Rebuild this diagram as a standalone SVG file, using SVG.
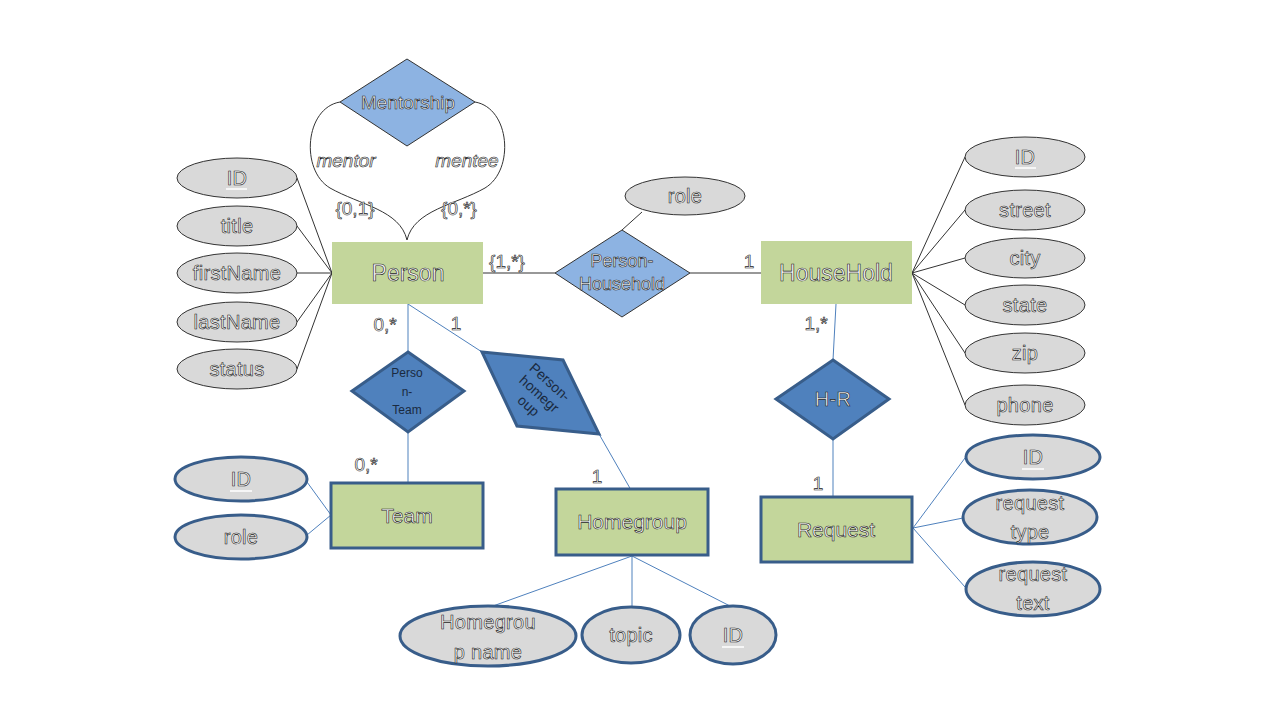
<svg xmlns="http://www.w3.org/2000/svg" width="1280" height="720" viewBox="0 0 1280 720">
<style>
text{font-family:"Liberation Sans",Arial,sans-serif;text-anchor:middle;fill:#f8f8f8;stroke:#1a1a1a;stroke-width:0.6}
.ent{fill:#c3d69b}
.entb{fill:#c3d69b;stroke:#385d8a;stroke-width:3}
.att{fill:#d9d9d9;stroke:#333;stroke-width:1}
.attb{fill:#d9d9d9;stroke:#385d8a;stroke-width:3}
.rel{fill:#8db3e2;stroke:#333;stroke-width:1}
.relb{fill:#4f81bd;stroke:#385d8a;stroke-width:3}
.dk{stroke:#333;stroke-width:1;fill:none}
.gr{stroke:#777;stroke-width:1.5;fill:none}
.bl{stroke:#4f81bd;stroke-width:1;fill:none}
.lbl{font-size:19px}
.big{font-size:23px}
.ent-t{font-size:21px}
.att-t{font-size:20px;letter-spacing:0.3px}
.dark{fill:#1a2a40;stroke:none}
</style>
<rect width="1280" height="720" fill="#fff"/>
<g id="connectors">
<path class="dk" d="M297,178 L332,273 M297,226 L332,273 M297,273 L332,273 M297,322 L332,273 M297,369 L332,273"/>
<path class="dk" d="M340,102 C305,108 300,170 330,188 C360,205 400,210 407,240 M475,102 C510,108 515,170 485,188 C455,205 414,210 407,240"/>
<path class="gr" d="M483,273 L555,273 M690,273 L761,273"/>
<path class="dk" d="M642,212 L622,230"/>
<path class="dk" d="M912,273 L965,157 M912,273 L965,210 M912,273 L965,258 M912,273 L965,305 M912,273 L965,353 M912,273 L965,405"/>
<path class="bl" d="M836,304 L833,360 M833,439 L833,497"/>
<path class="bl" d="M913,528 L965,458 M913,528 L963,518 M913,528 L965,587"/>
<path class="bl" d="M408,304 L408,352 M408,432 L408,483 M408,304 L482,352 M599,434 L631,490"/>
<path class="bl" d="M307,482 L331,515 M307,535 L331,515"/>
<path class="bl" d="M632,556 L493,606 M632,556 L632,606 M632,556 L730,606"/>
</g>
<g id="labels">
<text x="346" y="167" class="lbl" font-style="italic">mentor</text>
<text x="467" y="167" class="lbl" font-style="italic">mentee</text>
<text x="355" y="215" class="lbl">{0,1}</text>
<text x="459" y="215" class="lbl">{0,*}</text>
<text x="507" y="268" class="lbl">{1,*}</text>
<text x="749" y="268" class="lbl">1</text>
<text x="385" y="331" class="lbl">0,*</text>
<text x="456" y="330" class="lbl">1</text>
<text x="366" y="471" class="lbl">0,*</text>
<text x="597" y="483" class="lbl">1</text>
<text x="816" y="330" class="lbl">1,*</text>
<text x="818" y="490" class="lbl">1</text>
</g>
<g id="mentorship"><polygon class="rel" points="407,59 475,102 407,146 340,102"/><text x="408" y="109" font-size="19">Mentorship</text></g>
<g id="person"><rect class="ent" x="332" y="242" width="151" height="62"/><text x="408" y="281" class="big">Person</text></g>
<g id="household"><rect class="ent" x="761" y="241" width="151" height="63"/><text x="836" y="281" class="big">HouseHold</text></g>
<g id="p-id"><ellipse class="att" cx="237" cy="178" rx="60" ry="20"/><text x="237" y="185" class="att-t">ID</text><line x1="226" y1="189" x2="247" y2="189" stroke="#fff" stroke-width="1.5"/></g>
<g id="p-title"><ellipse class="att" cx="237" cy="226" rx="60" ry="20"/><text x="237" y="233" class="att-t">title</text></g>
<g id="p-first"><ellipse class="att" cx="237" cy="273" rx="60" ry="20"/><text x="237" y="280" class="att-t">firstName</text></g>
<g id="p-last"><ellipse class="att" cx="237" cy="322" rx="60" ry="20"/><text x="237" y="329" class="att-t">lastName</text></g>
<g id="p-status"><ellipse class="att" cx="237" cy="369" rx="60" ry="20"/><text x="237" y="376" class="att-t">status</text></g>
<g id="ph-role"><ellipse class="att" cx="685" cy="196" rx="60" ry="19"/><text x="685" y="203" class="att-t">role</text></g>
<g id="person-household"><polygon class="rel" points="622,230 690,273 622,317 555,273"/><text x="622" y="267" font-size="18">Person-</text><text x="622" y="290" font-size="18">Household</text></g>
<g id="h-id"><ellipse class="att" cx="1025" cy="157" rx="60" ry="20"/><text x="1025" y="164" class="att-t">ID</text><line x1="1015" y1="168" x2="1036" y2="168" stroke="#fff" stroke-width="1.5"/></g>
<g id="h-street"><ellipse class="att" cx="1025" cy="210" rx="60" ry="20"/><text x="1025" y="217" class="att-t">street</text></g>
<g id="h-city"><ellipse class="att" cx="1025" cy="258" rx="60" ry="20"/><text x="1025" y="265" class="att-t">city</text></g>
<g id="h-state"><ellipse class="att" cx="1025" cy="305" rx="60" ry="20"/><text x="1025" y="312" class="att-t">state</text></g>
<g id="h-zip"><ellipse class="att" cx="1025" cy="353" rx="60" ry="20"/><text x="1025" y="360" class="att-t">zip</text></g>
<g id="h-phone"><ellipse class="att" cx="1025" cy="405" rx="60" ry="20"/><text x="1025" y="412" class="att-t">phone</text></g>
<g id="h-r"><polygon class="relb" points="833,360 889,399 833,439 776,399"/><text x="833" y="406" class="att-t">H-R</text></g>
<g id="request"><rect class="entb" x="761" y="497" width="151" height="65"/><text x="836" y="537" class="ent-t">Request</text></g>
<g id="r-id"><ellipse class="attb" cx="1033" cy="457" rx="67" ry="22"/><text x="1033" y="464" class="att-t">ID</text><line x1="1022" y1="469" x2="1044" y2="469" stroke="#fff" stroke-width="1.5"/></g>
<g id="r-type"><ellipse class="attb" cx="1030" cy="517" rx="67" ry="27"/><text x="1030" y="510" class="att-t">request</text><text x="1030" y="539" class="att-t">type</text></g>
<g id="r-text"><ellipse class="attb" cx="1033" cy="589" rx="67" ry="27"/><text x="1033" y="581" class="att-t">request</text><text x="1033" y="610" class="att-t">text</text></g>
<g id="person-team"><polygon class="relb" points="408,352 464,391 408,432 352,391"/><text x="407" y="377" font-size="12" class="dark">Perso</text><text x="407" y="396" font-size="12" class="dark">n-</text><text x="407" y="414" font-size="12" class="dark">Team</text></g>
<g id="person-homegroup"><polygon class="relb" points="482,352 563,360 599,434 517,426"/><g transform="translate(540,393) rotate(42)"><text x="0" y="-10" font-size="14" class="dark">Person-</text><text x="0" y="6" font-size="14" class="dark">homegr</text><text x="0" y="22" font-size="14" class="dark">oup</text></g></g>
<g id="team"><rect class="entb" x="331" y="483" width="152" height="65"/><text x="407" y="523" class="ent-t">Team</text></g>
<g id="t-id"><ellipse class="attb" cx="241" cy="479" rx="66" ry="22"/><text x="241" y="486" class="att-t">ID</text><line x1="230" y1="491" x2="252" y2="491" stroke="#fff" stroke-width="1.5"/></g>
<g id="t-role"><ellipse class="attb" cx="241" cy="537" rx="66" ry="22"/><text x="241" y="544" class="att-t">role</text></g>
<g id="homegroup"><rect class="entb" x="556" y="489" width="152" height="66"/><text x="632" y="529" class="ent-t">Homegroup</text></g>
<g id="hg-name"><ellipse class="attb" cx="488" cy="636" rx="88" ry="30"/><text x="488" y="629" class="att-t">Homegrou</text><text x="488" y="659" class="att-t">p name</text></g>
<g id="hg-topic"><ellipse class="attb" cx="631" cy="635" rx="49" ry="28"/><text x="631" y="642" class="att-t">topic</text></g>
<g id="hg-id"><ellipse class="attb" cx="733" cy="635" rx="43" ry="29"/><text x="733" y="642" class="att-t">ID</text><line x1="722" y1="647" x2="744" y2="647" stroke="#fff" stroke-width="1.5"/></g>
</svg>
